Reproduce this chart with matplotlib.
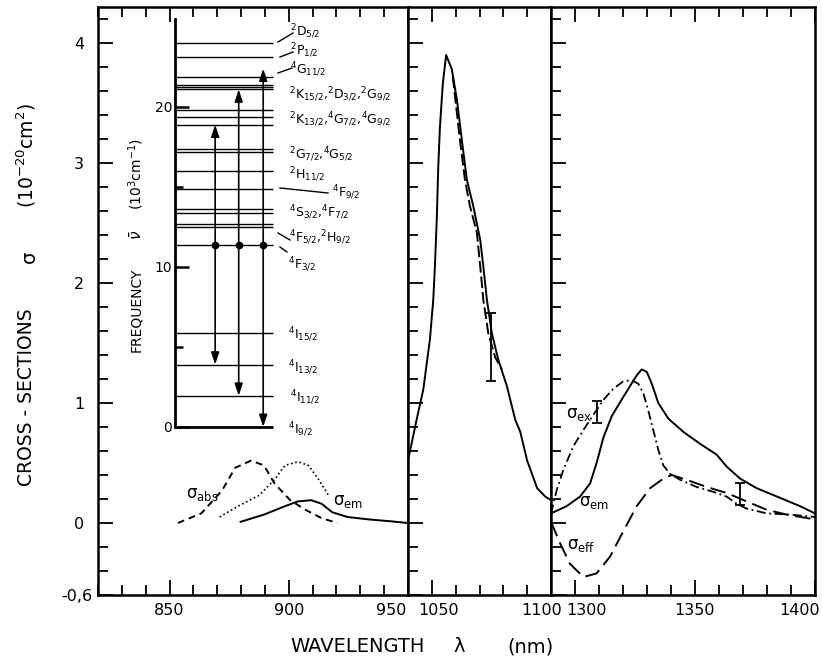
import numpy as np
import matplotlib.pyplot as plt
from matplotlib.lines import Line2D
from matplotlib.transforms import ScaledTranslation

# ---- data ----
# panel 1: 820-950 nm (4F3/2 -> 4I9/2)
lam_abs = [853.5, 863.3, 872, 877.5, 884.2, 889.6, 894, 900.6, 907, 913.8, 920.4]
sig_abs = [0.0, 0.08, 0.27, 0.46, 0.52, 0.48, 0.33, 0.19, 0.11, 0.04, 0.0]
lam_dot = [871, 878.7, 887.5, 894, 898.4, 903.8, 908.3, 912.6, 917]
sig_dot = [0.05, 0.14, 0.23, 0.36, 0.48, 0.51, 0.48, 0.36, 0.22]
lam_em1 = [879.8, 889.6, 898.4, 903.8, 909.4, 913.8, 918.2, 924.6, 933.5, 942.3, 950]
sig_em1 = [0.01, 0.07, 0.14, 0.18, 0.19, 0.16, 0.09, 0.05, 0.03, 0.015, 0.0]

# panel 2: 1040-1100 nm (4F3/2 -> 4I11/2)
lam_em2 = [1040, 1043.6, 1046.4, 1049.2, 1050.6, 1051.3, 1052.1, 1052.7, 1053.4, 1054.6,
           1056.0, 1058.4, 1060.5, 1062.6, 1064.7, 1067.4, 1070.3, 1071.6, 1073.1, 1075.2,
           1077.9, 1081.5, 1085, 1087.1, 1090, 1094.2, 1097.6, 1100]
sig_em2 = [0.52, 0.86, 1.11, 1.53, 1.86, 2.14, 2.55, 2.97, 3.30, 3.66,
           3.90, 3.78, 3.53, 3.19, 2.86, 2.64, 2.36, 2.14, 1.86, 1.58,
           1.36, 1.14, 0.86, 0.76, 0.52, 0.29, 0.22, 0.19]
lam_dash2 = [1058.8, 1061.8, 1063.9, 1066, 1068.9, 1070.3, 1071.6, 1073.7, 1076.6, 1079.4]
sig_dash2 = [3.72, 3.19, 2.86, 2.64, 2.42, 2.14, 1.86, 1.58, 1.38, 1.28]
err2_lam, err2_sig, err2_half = [1074.9], [1.465], [0.285]

# panel 3: 1290-1400 nm (4F3/2 -> 4I13/2)
lam_em3 = [1290, 1296.5, 1302.1, 1306.3, 1309, 1311.8, 1315.3, 1319.5, 1322.9, 1325.7,
           1327.8, 1329.9, 1332, 1334.7, 1338.9, 1345.1, 1352.1, 1359, 1363.2, 1368.8,
           1375.7, 1385.4, 1393.8, 1400]
sig_em3 = [0.08, 0.14, 0.22, 0.33, 0.50, 0.71, 0.89, 1.03, 1.14, 1.23,
           1.28, 1.26, 1.16, 1.00, 0.87, 0.76, 0.66, 0.57, 0.47, 0.37,
           0.29, 0.21, 0.14, 0.08]
lam_ex3 = [1290, 1292.4, 1295.1, 1299.3, 1303.5, 1307.6, 1311.8, 1316, 1320.1, 1323.6,
           1326.4, 1328.5, 1330.5, 1332.6, 1334.7, 1336.8, 1339.6, 1343.8, 1350.7, 1357.6,
           1363.2, 1367.4, 1371.5, 1379.9, 1389.6, 1400]
sig_ex3 = [0.08, 0.275, 0.44, 0.64, 0.775, 0.90, 1.025, 1.12, 1.18, 1.19,
           1.16, 1.08, 0.94, 0.775, 0.61, 0.48, 0.41, 0.36, 0.30, 0.26,
           0.22, 0.16, 0.12, 0.08, 0.07, 0.05]
lam_eff3 = [1290, 1293.8, 1297.9, 1303.5, 1309, 1314.6, 1320.1, 1325.7, 1331.3, 1336.8,
            1340.3, 1346.5, 1354.9, 1363.2, 1371.5, 1379.9, 1388.2, 1400]
sig_eff3 = [0.01, -0.17, -0.34, -0.45, -0.42, -0.28, -0.07, 0.14, 0.29, 0.37,
            0.40, 0.36, 0.30, 0.25, 0.18, 0.11, 0.07, 0.03]
err3_lam, err3_sig, err3_half = [1309, 1368.8], [0.925, 0.24], [0.095, 0.09]

# energy levels of Nd3+ (10^3 cm^-1)
levels = [0.0, 1.95, 3.9, 5.9, 11.4, 12.5, 12.7, 13.4, 13.6, 14.9, 16.0, 17.2, 17.35,
          18.9, 19.4, 19.8, 21.1, 21.25, 21.4, 21.9, 23.1, 24.0]
f32 = 11.4
lower = [3.9, 1.95, 0.0]
upper = [18.9, 21.1, 22.4]
terms = [r'$^2$D$_{5/2}$', r'$^2$P$_{1/2}$', r'$^4$G$_{11/2}$',
         r'$^2$K$_{15/2}$,$^2$D$_{3/2}$,$^2$G$_{9/2}$',
         r'$^2$K$_{13/2}$,$^4$G$_{7/2}$,$^4$G$_{9/2}$',
         r'$^2$G$_{7/2}$,$^4$G$_{5/2}$', r'$^2$H$_{11/2}$', r'$^4$F$_{9/2}$',
         r'$^4$S$_{3/2}$,$^4$F$_{7/2}$', r'$^4$F$_{5/2}$,$^2$H$_{9/2}$', r'$^4$F$_{3/2}$',
         r'$^4$I$_{15/2}$', r'$^4$I$_{13/2}$', r'$^4$I$_{11/2}$', r'$^4$I$_{9/2}$']

# ---- layout helpers (pixels of a 822x663 canvas) ----
W, H = 822, 663
def fx(px):
    return px / W
def fy(py):
    return 1 - py / H
def box(x0, x1, y0, y1):
    return [x0 / W, 1 - y1 / H, (x1 - x0) / W, (y1 - y0) / H]

fig = plt.figure(figsize=(8.22, 6.63), dpi=100)
ax1 = fig.add_axes(box(98, 408, 7, 595))
ax2 = fig.add_axes(box(408, 551, 7, 595))
ax3 = fig.add_axes(box(551, 815, 7, 595))

xl = [(820, 950), (1040, 1100), (1290, 1400)]
xmaj = [[850, 900, 950], [1050, 1100], [1300, 1350, 1400]]
xlab = [['850', '900', '950'], ['1050', '1100'], ['1300', '1350', '1400']]
xshift = [[0, 0, -2], [7, -9], [12, 0, -15]]
for ax, lim, mj, lb, sh in zip([ax1, ax2, ax3], xl, xmaj, xlab, xshift):
    ax.set_xlim(*lim)
    ax.set_ylim(-0.6, 4.3)
    for s in ax.spines.values():
        s.set_linewidth(1.8)
    ax.set_xticks(mj)
    ax.set_xticks(np.arange(lim[0], lim[1] + 1, 10), minor=True)
    ax.set_xticklabels(lb)
    ax.set_yticks([-0.6, 0, 1, 2, 3, 4])
    ax.set_yticks(np.arange(-0.6, 4.3, 0.2), minor=True)
    ax.tick_params(which='both', direction='in', top=True, right=False, width=1.3)
    ax.tick_params(which='major', length=11)
    ax.tick_params(which='minor', length=7)
    ax.tick_params(axis='x', labelsize=11.5, pad=6)
    for t, d in zip(ax.get_xticklabels(), sh):
        t.set_transform(t.get_transform() + ScaledTranslation(d / 100, 0, fig.dpi_scale_trans))
    if lb[-1] == '950':
        ax.get_xticklabels()[-1].set_ha('right')

ax1.set_yticklabels(['-0,6', '0', '1', '2', '3', '4'])
ax1.tick_params(axis='y', labelsize=11.5, pad=10)
t06 = ax1.get_yticklabels()[0]
t06.set_transform(t06.get_transform() + ScaledTranslation(0.08, 0, fig.dpi_scale_trans))
ax2.set_yticklabels([])
ax3.set_yticklabels([])

# curves
ax1.plot(lam_abs, sig_abs, color='k', lw=1.4, ls=(0, (3.5, 2.5)))
ax1.plot(lam_dot, sig_dot, color='k', lw=1.2, ls=(0, (1, 1.6)))
ax1.plot(lam_em1, sig_em1, color='k', lw=1.4)

ax2.plot(lam_em2, sig_em2, color='k', lw=1.4)
ax2.plot(lam_dash2, sig_dash2, color='k', lw=1.4, ls=(0, (6, 2)))
ax2.errorbar(err2_lam, err2_sig, yerr=err2_half, fmt='none', ecolor='k',
             elinewidth=1.3, capsize=3.5, capthick=1.3)

ax3.plot(lam_em3, sig_em3, color='k', lw=1.4)
ax3.plot(lam_ex3, sig_ex3, color='k', lw=1.3, ls=(0, (5, 2, 1, 2)))
ax3.plot(lam_eff3, sig_eff3, color='k', lw=1.4, ls=(0, (8, 3.5)))
ax3.errorbar(err3_lam, err3_sig, yerr=err3_half, fmt='none', ecolor='k',
             elinewidth=1.3, capsize=3.5, capthick=1.3)

# curve labels
lab_kw = dict(fontsize=12, va='center', ha='left')
fig.text(fx(186), fy(494), r'σ$_{\rm abs}$', **lab_kw)
fig.text(fx(333), fy(501), r'σ$_{\rm em}$', **lab_kw)
fig.text(fx(566), fy(414), r'σ$_{\rm ex}$', **lab_kw)
fig.text(fx(579), fy(502), r'σ$_{\rm em}$', **lab_kw)
fig.text(fx(567), fy(545), r'σ$_{\rm eff}$', **lab_kw)

# axis titles
fig.text(fx(27), fy(397), 'CROSS - SECTIONS', rotation=90, fontsize=13.5, ha='center', va='center')
fig.text(fx(29), fy(257), 'σ', rotation=90, fontsize=14, ha='center', va='center')
fig.text(fx(26), fy(156), r'(10$^{-20}$cm$^{2}$)', rotation=90, fontsize=13.5, ha='center', va='center')
fig.text(fx(358), fy(647), 'WAVELENGTH', fontsize=14, ha='center', va='center')
fig.text(fx(459), fy(647), 'λ', fontsize=14, ha='center', va='center')
fig.text(fx(530), fy(647), '(nm)', fontsize=14, ha='center', va='center')

# ---- energy level inset ----
ax_in = fig.add_axes(box(175, 273, 19, 427))
ax_in.set_xlim(0, 1)
ax_in.set_ylim(0, 25.5)
ax_in.patch.set_alpha(0)
for k in ('top', 'right', 'bottom'):
    ax_in.spines[k].set_visible(False)
ax_in.spines['left'].set_linewidth(2)
ax_in.set_xticks([])
ax_in.set_yticks([0, 10, 20])
ax_in.set_yticks([5, 15], minor=True)
ax_in.tick_params(axis='y', which='both', direction='in', width=1.8, labelsize=10, pad=2)
ax_in.tick_params(axis='y', which='major', length=10)
ax_in.tick_params(axis='y', which='minor', length=6)
ax_in.hlines(levels[1:], 0, 1, color='k', lw=1.0, clip_on=False)
ax_in.hlines(levels[0], 0, 1, color='k', lw=2, clip_on=False)

arrow_x = [0.41, 0.65, 0.90]
akw = dict(arrowstyle='-|>,head_length=0.6,head_width=0.2', color='k', lw=1.2,
           shrinkA=0, shrinkB=0, mutation_scale=12)
for xa, lo, up in zip(arrow_x, lower, upper):
    ax_in.annotate('', xy=(xa, lo), xytext=(xa, f32), arrowprops=akw, annotation_clip=False)
    ax_in.annotate('', xy=(xa, up), xytext=(xa, f32), arrowprops=akw, annotation_clip=False)
ax_in.plot(arrow_x, [f32] * 3, 'o', color='k', ms=4.5, clip_on=False)

fig.text(fx(136), fy(310), 'FREQUENCY', rotation=90, fontsize=10, ha='center', va='center')
fig.text(fx(137), fy(235), r'$\bar{\nu}$', rotation=90, fontsize=11, ha='center', va='center')
fig.text(fx(136), fy(174), r'(10$^{3}$cm$^{-1}$)', rotation=90, fontsize=10, ha='center', va='center')

term_pos = [(290, 32), (290, 51), (290, 70), (289, 95), (289, 120), (289, 155), (289, 175),
            (332, 193), (289, 213), (289, 238), (288, 265), (288, 335), (288, 368),
            (290, 398), (288, 430)]
for name, (px, py) in zip(terms, term_pos):
    fig.text(fx(px), fy(py), name, fontsize=9, ha='left', va='center')

leaders = [((278, 293), (42, 33)), ((280, 293), (57, 52)), ((278, 292), (73, 68)),
           ((280, 328), (188, 193)), ((278, 290), (233, 240)), ((280, 287), (247, 252))]
for (xa, xb), (ya, yb) in leaders:
    fig.add_artist(Line2D([fx(xa), fx(xb)], [fy(ya), fy(yb)], color='k', lw=1))

fig.savefig('out.png', dpi=100)
